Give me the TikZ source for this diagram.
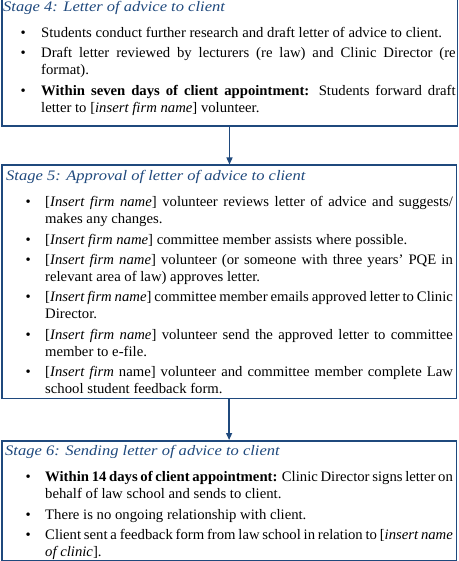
\documentclass[tikz,border=0pt]{standalone}
\usepackage{fontspec}
\setmainfont{Liberation Serif}[FakeStretch=1.015]
\newfontfamily\ttlfont{Liberation Serif}[FakeStretch=1.14]
\usetikzlibrary{arrows.meta}
\definecolor{bdr}{HTML}{1F497D}
\definecolor{ttlc}{HTML}{1F497D}
\newlength\tlx \newlength\bux \newlength\txx \newlength\rtx \newlength\lw
\newcommand\ttl[1]{\hbox{\rule{0pt}{12pt}\hspace*{\tlx}\textcolor{ttlc}{\ttlfont\itshape #1}}}
% first line of a bullet item
\newcommand\bl[2][3.3pt]{\vspace{#1}\hbox{\hbox to\txx{\hspace*{\bux}\hbox to 0pt{\hss\textbullet\hss}\hfil}#2}}
% continuation line
\newcommand\cl[1]{\hbox{\hspace*{\txx}#1}}
\newcommand\jl[1]{\hbox to\lw{#1}}
\newcommand\lastl[1]{\hbox{#1}}
\newcommand\setup{\fontsize{14.5}{17}\selectfont\lineskiplimit=-100pt\hbadness=10000 }
\begin{document}
\begin{tikzpicture}[x=1pt,y=1pt,
  box/.style={draw=bdr, line width=1.5pt, rectangle, inner sep=0pt, anchor=north west},
  txt/.style={inner sep=0pt, anchor=north west},
  arr/.style={draw=bdr, line width=1.3pt, -{Triangle[width=6pt,length=7pt]}}]
\useasboundingbox (0,0) rectangle (458,-561);
% boxes
\node[box, minimum width=455.5pt, minimum height=129.5pt] (s4) at (1,4) {};
\node[box, minimum width=454.7pt, minimum height=233.2pt] (s5) at (1,-164.5) {};
\node[box, minimum width=454.7pt, minimum height=119.5pt] (s6) at (1,-440) {};
% connectors
\draw[arr] (s4.south) -- (s4.south |- s5.north);
\draw[arr] (s5.south) -- (s5.south |- s6.north);
% texts
\node[txt] (t4) at (0,1) {\vbox{\hsize=458pt \setup
\setlength\tlx{3pt}\setlength\bux{23pt}\setlength\txx{41pt}\setlength\rtx{455.5pt}\setlength\lw{\dimexpr\rtx-\txx\relax}
\ttl{Stage 4: Letter of advice to client}
\bl[9.3pt]{\lastl{Students conduct further research and draft letter of advice to client.}}
\bl{\jl{Draft letter reviewed by lecturers (re law) and Clinic Director (re}}
\cl{\lastl{format).}}
\bl{\jl{\textbf{Within seven days of client appointment:} Students forward draft}}
\cl{\lastl{letter to [\textit{insert firm name}] volunteer.}}
}};
\node[txt] (t5) at (0,-168) {\vbox{\hsize=458pt \setup
\setlength\tlx{6pt}\setlength\bux{28pt}\setlength\txx{45pt}\setlength\rtx{452.7pt}\setlength\lw{\dimexpr\rtx-\txx\relax}
\ttl{Stage 5: Approval of letter of advice to client}
\bl[9.7pt]{\jl{[\textit{Insert firm name}] volunteer reviews letter of advice and suggests/}}
\cl{\lastl{makes any changes.}}
\bl{\lastl{[\textit{Insert firm name}] committee member assists where possible.}}
\bl{\jl{[\textit{Insert firm name}] volunteer (or someone with three years' PQE in}}
\cl{\lastl{relevant area of law) approves letter.}}
\bl{\jl{[\textit{Insert firm name}] committee member emails approved letter to Clinic}}
\cl{\lastl{Director.}}
\bl{\jl{[\textit{Insert firm name}] volunteer send the approved letter to committee}}
\cl{\lastl{member to e-file.}}
\bl{\jl{[\textit{Insert firm} name] volunteer and committee member complete Law}}
\cl{\lastl{school student feedback form.}}
}};
\node[txt] (t6) at (0,-443) {\vbox{\hsize=458pt \setup
\setlength\tlx{5pt}\setlength\bux{28pt}\setlength\txx{45pt}\setlength\rtx{452.7pt}\setlength\lw{\dimexpr\rtx-\txx\relax}
\ttl{Stage 6: Sending letter of advice to client}
\bl[9.7pt]{\jl{\textbf{Within 14 days of client appointment:} Clinic Director signs letter on}}
\cl{\lastl{behalf of law school and sends to client.}}
\bl{\lastl{There is no ongoing relationship with client.}}
\bl{\jl{Client sent a feedback form from law school in relation to [\textit{insert name}}}
\cl{\lastl{\textit{of clinic}].}}
}};
\end{tikzpicture}
\end{document}
